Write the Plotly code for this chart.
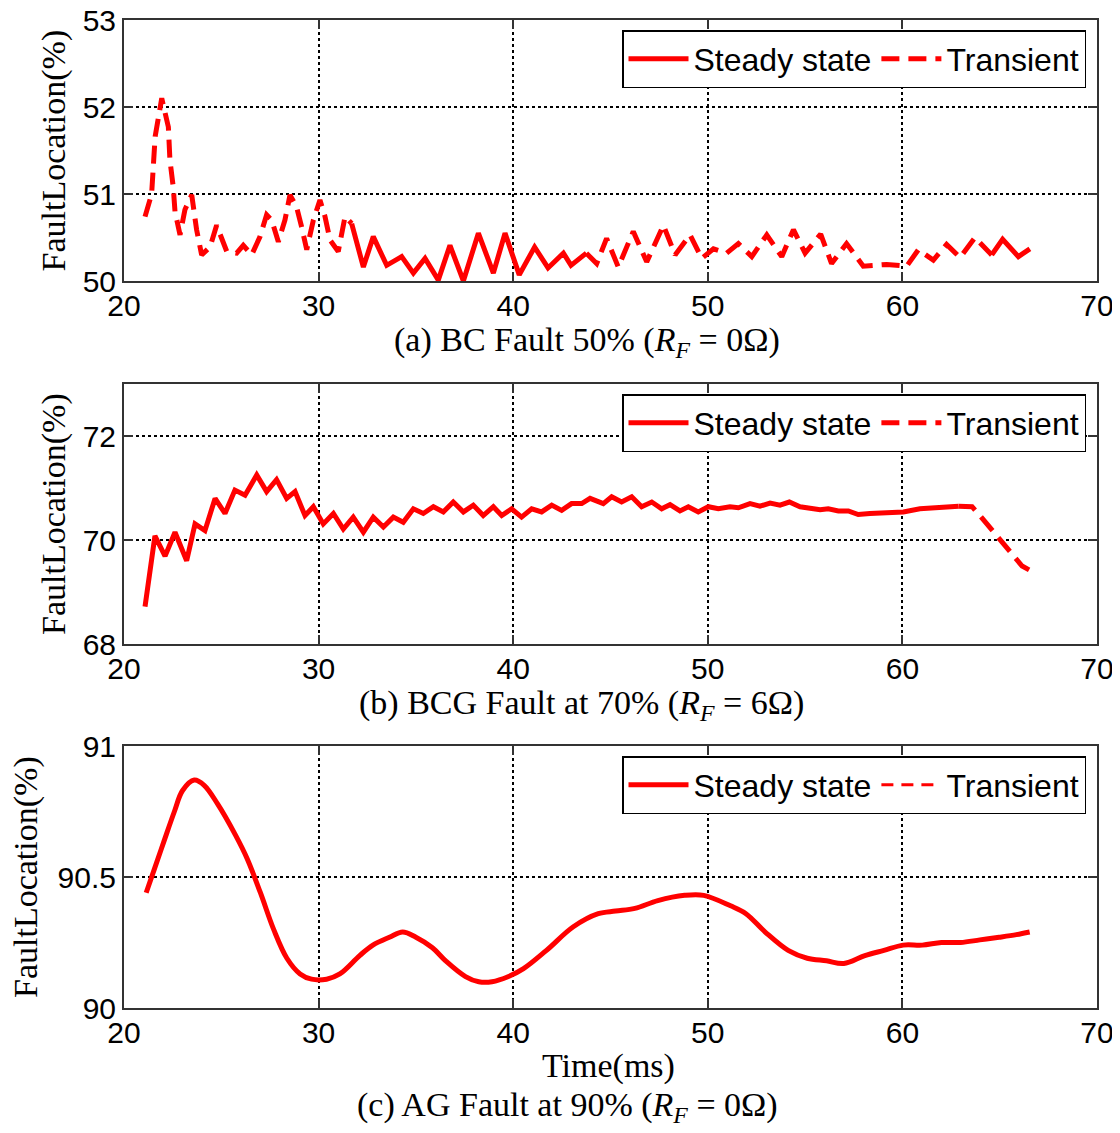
import plotly.graph_objects as go

# panel (a) BC fault 50%
A_T = [21.08, 21.42, 21.6, 21.94, 22.28, 22.36, 22.53, 22.62, 22.88, 23.13,
       23.48, 23.73, 23.99, 24.42, 24.76, 25.28, 25.79, 26.13, 26.56, 26.99,
       27.33, 27.59, 27.93, 28.27, 28.53, 28.87, 29.13, 29.39, 29.73, 30.07,
       30.33, 30.59, 31.01, 31.36, 31.70, 32.30, 32.81, 33.50, 34.27, 34.87,
       35.47, 36.15, 36.75, 37.44, 38.21, 38.98, 39.58, 40.31, 41.10, 41.79,
       42.58, 42.97, 43.76, 44.29, 44.80, 45.40, 46.17, 46.86, 47.72, 48.32,
       49.09, 49.69, 50.29, 50.97, 51.57, 52.26, 53.03, 53.80, 54.40, 55.00,
       55.80, 56.36, 57.13, 57.99, 59.19, 60.22, 60.82, 61.59, 62.27, 62.96,
       63.73, 64.59, 65.15, 65.96, 66.55]
A_Y = [50.74, 51.0, 51.66, 52.1, 51.77, 51.39, 51.08, 50.8, 50.53, 50.82,
       50.99, 50.59, 50.3, 50.39, 50.64, 50.34, 50.32, 50.41, 50.3, 50.51,
       50.76, 50.7, 50.45, 50.70, 50.99, 50.85, 50.62, 50.36, 50.70, 50.93,
       50.74, 50.47, 50.34, 50.74, 50.66, 50.16, 50.51, 50.18, 50.28, 50.09,
       50.26, 50.01, 50.41, 50.0, 50.55, 50.09, 50.55, 50.07, 50.39, 50.15,
       50.32, 50.18, 50.32, 50.20, 50.49, 50.16, 50.57, 50.22, 50.64, 50.30,
       50.53, 50.26, 50.37, 50.32, 50.43, 50.28, 50.53, 50.28, 50.59, 50.32,
       50.54, 50.20, 50.43, 50.17, 50.19, 50.17, 50.36, 50.24, 50.42, 50.27,
       50.50, 50.30, 50.48, 50.28, 50.37]
A_STEADY = [(31.7, 43.8), (64.1, 66.7)]

# panel (b) BCG fault at 70%
B_T = [21.08, 21.59, 22.11, 22.62, 23.22, 23.65, 24.16, 24.68, 25.19, 25.70,
       26.22, 26.82, 27.33, 27.84, 28.36, 28.79, 29.30, 29.73, 30.24, 30.76,
       31.27, 31.78, 32.30, 32.81, 33.33, 33.84, 34.35, 34.87, 35.38, 35.90,
       36.41, 36.92, 37.44, 37.95, 38.46, 38.98, 39.41, 39.92, 40.43, 40.95,
       41.46, 41.98, 42.49, 43.00, 43.52, 43.95, 44.63, 45.06, 45.57, 46.09,
       46.60, 47.12, 47.63, 48.06, 48.57, 49.00, 49.51, 50.03, 50.54, 51.14,
       51.57, 52.17, 52.68, 53.20, 53.71, 54.19, 54.74, 55.25, 55.77, 56.19,
       56.71, 57.22, 57.73, 58.33, 58.85, 59.45, 60.05, 60.90, 62.01, 62.89,
       63.58, 63.98, 64.77, 65.56, 66.15, 66.64]
B_Y = [68.72, 70.08, 69.69, 70.15, 69.60, 70.31, 70.18, 70.80, 70.51, 70.96,
       70.86, 71.25, 70.93, 71.16, 70.80, 70.93, 70.47, 70.64, 70.31, 70.51,
       70.21, 70.44, 70.15, 70.44, 70.25, 70.44, 70.34, 70.60, 70.51, 70.64,
       70.54, 70.73, 70.54, 70.67, 70.47, 70.64, 70.47, 70.60, 70.44, 70.60,
       70.54, 70.67, 70.57, 70.70, 70.70, 70.80, 70.70, 70.83, 70.73, 70.83,
       70.64, 70.73, 70.60, 70.68, 70.56, 70.64, 70.54, 70.64, 70.60, 70.64,
       70.62, 70.70, 70.65, 70.71, 70.67, 70.73, 70.64, 70.62, 70.58, 70.60,
       70.56, 70.56, 70.49, 70.51, 70.52, 70.52, 70.54, 70.60, 70.64, 70.65,
       70.64, 70.47, 70.12, 69.79, 69.50, 69.40]
B_STEADY = [(21.0, 62.9)]

# panel (c) AG fault at 90%
C_T = [21.14, 21.56, 22.07, 22.59, 23.01, 23.61, 24.12, 24.80, 25.73, 26.33,
       27.01, 27.69, 28.37, 29.05, 29.64, 30.41, 31.09, 32.11, 32.79, 33.64,
       34.32, 35.00, 35.85, 36.53, 37.55, 38.23, 38.91, 39.76, 40.53, 41.71,
       43.09, 44.37, 45.26, 46.25, 47.43, 48.81, 49.79, 51.17, 51.96, 52.95,
       54.13, 55.11, 56.10, 56.99, 58.07, 59.05, 60.04, 61.02, 62.01, 62.99,
       63.98, 64.97, 65.86, 66.54]
C_Y = [90.44, 90.53, 90.64, 90.75, 90.83, 90.87, 90.85, 90.78, 90.66, 90.57,
       90.44, 90.30, 90.19, 90.13, 90.11, 90.11, 90.13, 90.20, 90.24, 90.27,
       90.29, 90.27, 90.23, 90.18, 90.12, 90.10, 90.10, 90.12, 90.15, 90.22,
       90.31, 90.36, 90.37, 90.38, 90.41, 90.43, 90.43, 90.39, 90.36, 90.29,
       90.22, 90.19, 90.18, 90.17, 90.20, 90.22, 90.24, 90.24, 90.25, 90.25,
       90.26, 90.27, 90.28, 90.29]
C_STEADY = [(21.0, 66.7)]

Y_RANGES = [(50, 53), (68, 73), (90, 91)]
Y_TICKS = [[50, 51, 52, 53], [68, 70, 72], [90, 90.5, 91]]
Y_TICKTEXT = [["50", "51", "52", "53"], ["68", "70", "72"], ["90", "90.5", "91"]]
X_TICKS = [20, 30, 40, 50, 60, 70]
CAPTIONS = [
    "(a) BC Fault 50% (<i>R<sub>F</sub></i> = 0Ω)",
    "(b) BCG Fault at 70% (<i>R<sub>F</sub></i> = 6Ω)",
    "(c) AG Fault at 90% (<i>R<sub>F</sub></i> = 0Ω)",
]

# the page body has an 8px margin, so the figure is a bit smaller than the window
OFF = 8
W, H = 1120 - 2 * OFF, 1133 - 2 * OFF
RED = "#ff0000"
SANS = "Liberation Sans"
SERIF = "Liberation Serif"
# pixel boxes of the three axes in the screenshot (top, bottom)
BOXES = [(20, 281), (384, 644), (746, 1008)]
X_LEFT, X_RIGHT = 124, 1097


def px(x):
    return (x - OFF) / W


def py(y):
    return 1 - (y - OFF) / H


def split(t, y, spans):
    steady = [any(a <= ti <= b for a, b in spans) for ti in t]
    n = len(t)
    solid = [yi if s else None for yi, s in zip(y, steady)]
    dashed = []
    for i, yi in enumerate(y):
        near = (not steady[i]) or (i > 0 and not steady[i - 1]) or (i < n - 1 and not steady[i + 1])
        dashed.append(yi if near else None)
    return solid, dashed


fig = go.Figure()
series = [(A_T, A_Y, A_STEADY), (B_T, B_Y, B_STEADY), (C_T, C_Y, C_STEADY)]
legend_names = ["legend", "legend2", "legend3"]

for k, (t, y, spans) in enumerate(series):
    solid, dashed = split(t, y, spans)
    sfx = "" if k == 0 else str(k + 1)
    shape = "spline" if k == 2 else "linear"
    fig.add_trace(go.Scatter(
        x=t, y=solid, mode="lines", name="Steady state",
        line=dict(color=RED, width=5, shape=shape),
        xaxis="x" + sfx, yaxis="y" + sfx, legend=legend_names[k],
    ))
    dash_w = 3 if k == 2 else 5
    fig.add_trace(go.Scatter(
        x=t, y=dashed, mode="lines", name="Transient",
        line=dict(color=RED, width=dash_w, dash="18px,9px" if k < 2 else "12px,8px"),
        xaxis="x" + sfx, yaxis="y" + sfx, legend=legend_names[k],
    ))

axis_common = dict(
    showgrid=True, gridcolor="black", griddash="dot", gridwidth=1.5,
    zeroline=False, showline=True, linecolor="#333333", linewidth=2,
    mirror="ticks", ticks="inside", ticklen=9, tickwidth=2, tickcolor="#333333",
    tickfont=dict(family=SANS, size=30, color="black"), automargin=False,
    ticklabeloverflow="allow",
)

layout = dict(
    width=W, height=H,
    margin=dict(l=0, r=0, t=0, b=0, autoexpand=False),
    paper_bgcolor="white", plot_bgcolor="white",
    showlegend=True,
)

annotations = []
for k, (top, bot) in enumerate(BOXES):
    sfx = "" if k == 0 else str(k + 1)
    layout["xaxis" + sfx] = dict(
        axis_common, domain=[px(X_LEFT), px(X_RIGHT)], range=[20, 70],
        tickvals=X_TICKS, anchor="y" + sfx, ticklabelstandoff=-3,
    )
    layout["yaxis" + sfx] = dict(
        axis_common, domain=[py(bot), py(top)], range=list(Y_RANGES[k]),
        tickvals=Y_TICKS[k], ticktext=Y_TICKTEXT[k], anchor="x" + sfx,
    )
    layout[legend_names[k]] = dict(
        x=px(1086), xanchor="right", y=py(top + 10), yanchor="top",
        orientation="h", bgcolor="white", bordercolor="black", borderwidth=1.5,
        font=dict(family=SANS, size=32, color="black"), itemwidth=60,
        tracegroupgap=0,
    )
    ytitle_x = 26 if k == 2 else 54
    annotations.append(dict(
        text="FaultLocation(%)", textangle=-90, x=px(ytitle_x), y=py((top + bot) / 2),
        xref="paper", yref="paper", xanchor="center", yanchor="middle", showarrow=False,
        font=dict(family=SERIF, size=34, color="black"),
    ))

CAPTION_POS = [(587, 342), (581, 705), (567, 1107)]
for text, (cx, cy) in zip(CAPTIONS, CAPTION_POS):
    annotations.append(dict(
        text=text, x=px(cx), y=py(cy), xref="paper", yref="paper",
        xanchor="center", yanchor="middle",
        showarrow=False, font=dict(family=SERIF, size=34, color="black"),
    ))
annotations.append(dict(
    text="Time(ms)", x=px(608), y=py(1066), xref="paper", yref="paper",
    xanchor="center", yanchor="middle",
    showarrow=False, font=dict(family=SERIF, size=34, color="black"),
))
layout["annotations"] = annotations

fig.update_layout(layout)
fig.write_html("out.html")
